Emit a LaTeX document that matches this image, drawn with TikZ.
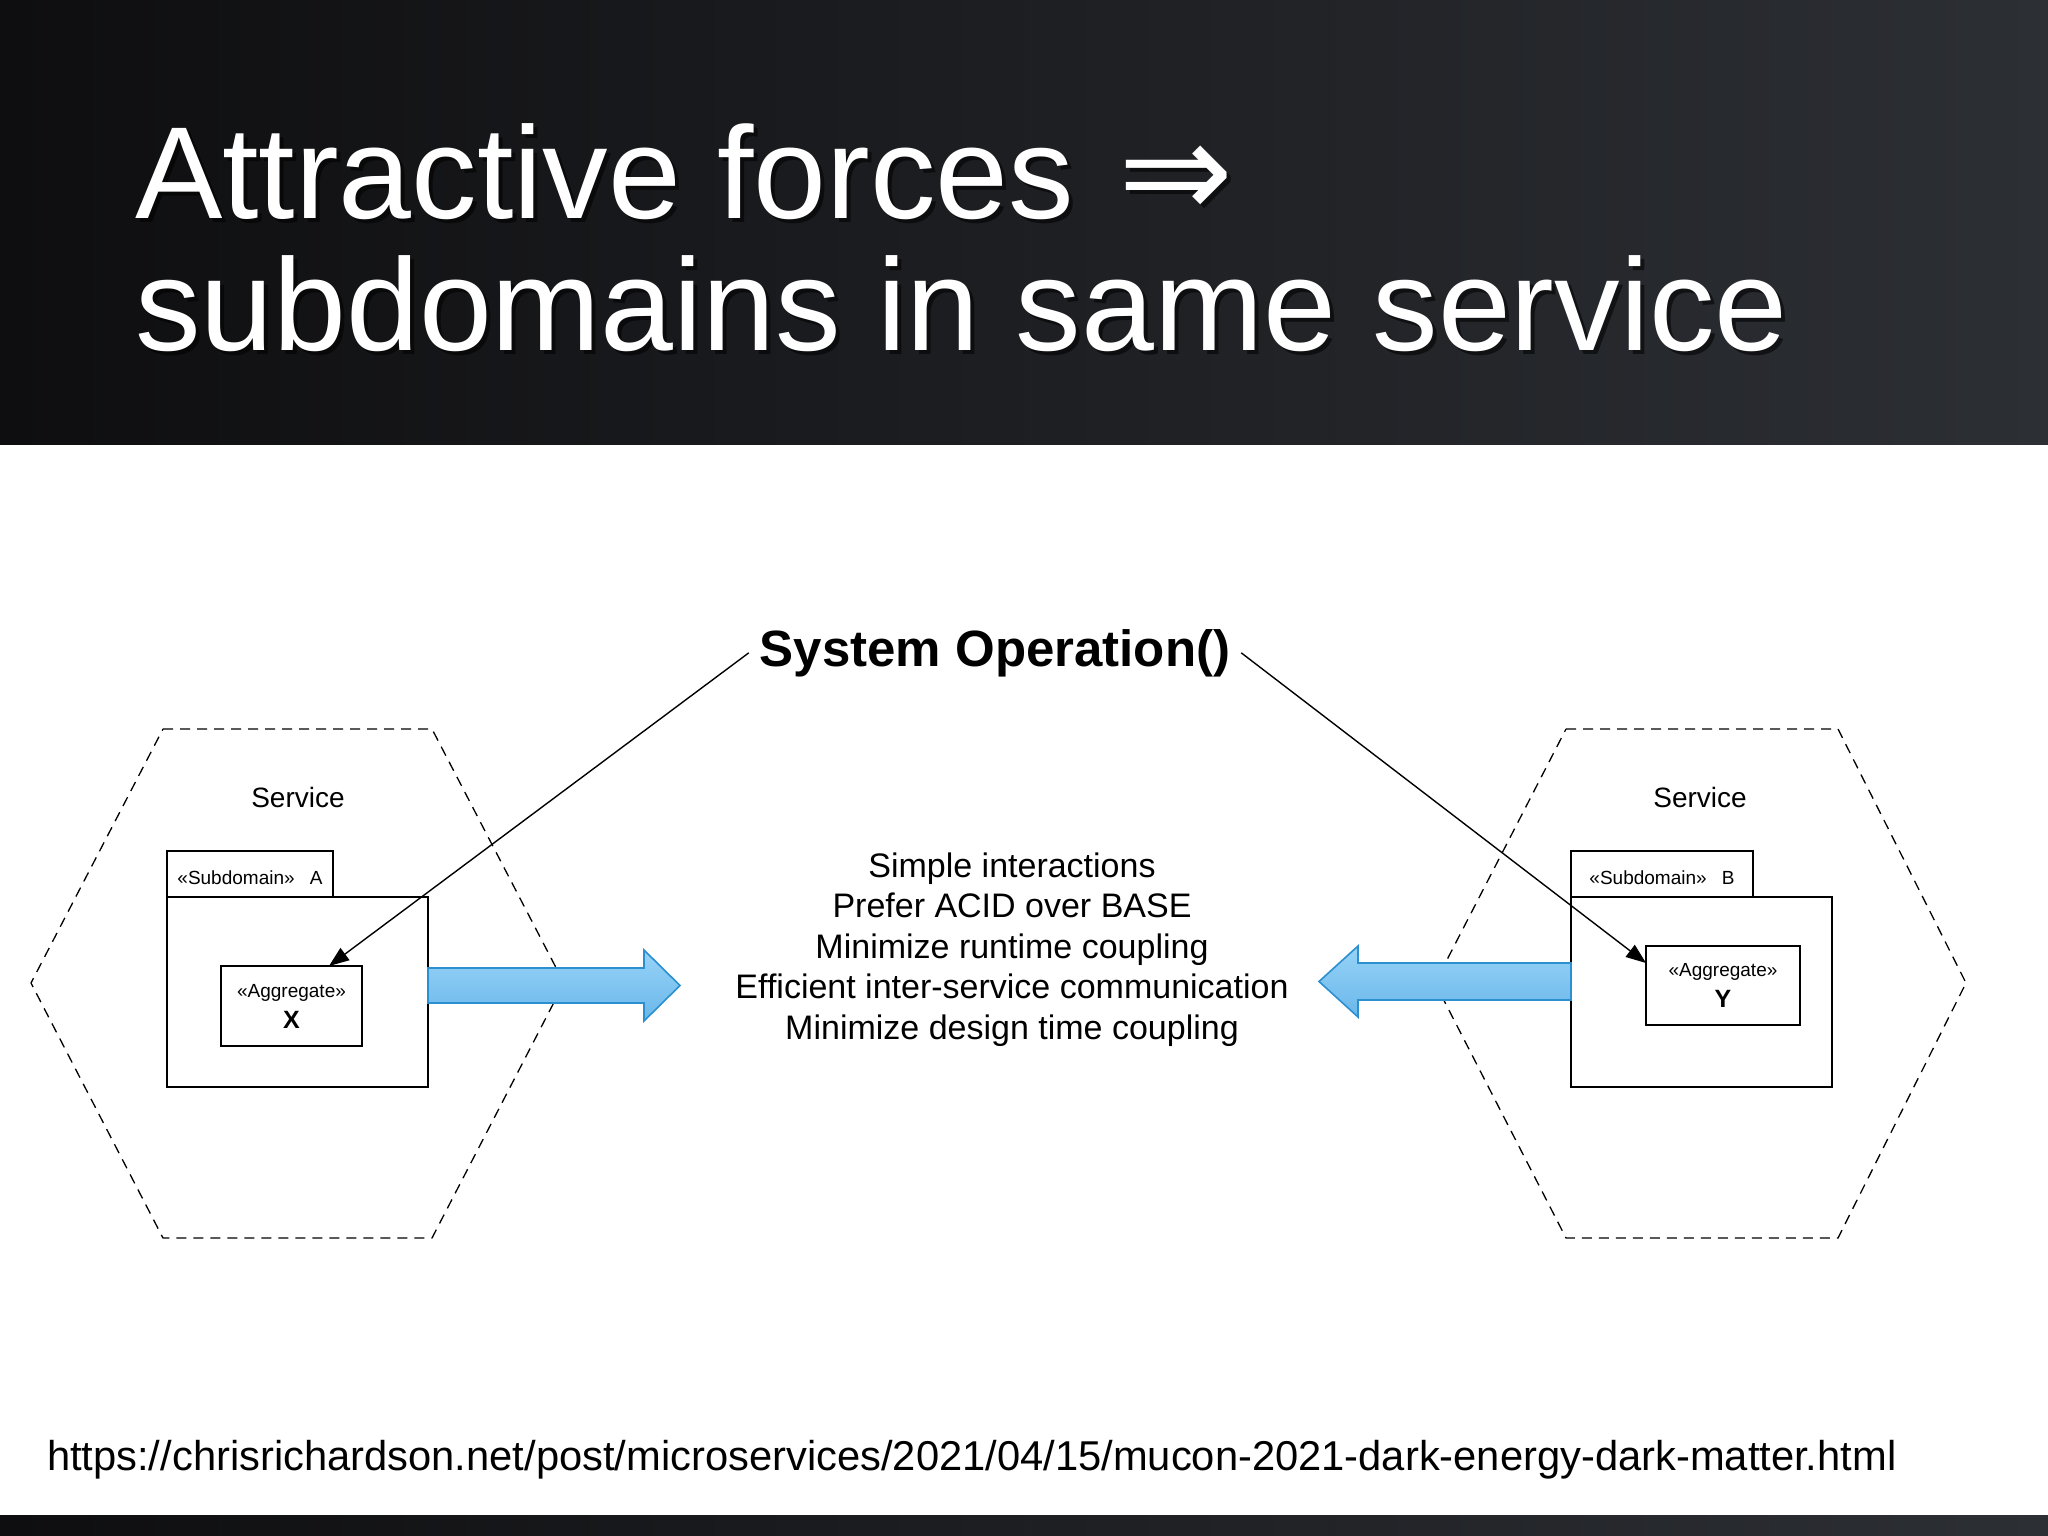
\documentclass[tikz,border=0pt]{standalone}
\usepackage{fontspec}
\setmainfont{Liberation Sans}
\newfontfamily\symfont{DejaVu Sans}
\usetikzlibrary{arrows.meta,calc}
\definecolor{bandleft}{HTML}{0E0E10}
\definecolor{bandright}{HTML}{2C2F34}
\definecolor{arrowtop}{HTML}{97D3F8}
\definecolor{arrowbottom}{HTML}{6AB7EA}
\definecolor{arrowborder}{HTML}{2C8FD0}
\begin{document}
\begin{tikzpicture}[x=1pt,y=-1pt,
  every node/.style={inner sep=0pt, outer sep=0pt},
  boxstyle/.style={draw=black, line width=2pt, fill=white, rectangle},
  hexstyle/.style={draw=black, line width=1.3pt, dash pattern=on 10pt off 7pt},
  callarrow/.style={draw=black, line width=1.4pt, -{Triangle[length=20pt,width=15pt]}},
  bluearrow/.style={draw=arrowborder, line width=1.6pt, top color=arrowtop, bottom color=arrowbottom},
  titlefont/.style={font=\fontsize{131}{150}\selectfont},
  smallfont/.style={font=\fontsize{19}{31}\selectfont},
]
\useasboundingbox (0,0) rectangle (2048,1536);
\fill[white] (0,0) rectangle (2048,1536);
% dark bands
\shade[left color=bandleft, right color=bandright] (0,0) rectangle (2048,444);
\shade[left color=bandleft, right color=bandright] (0,1515) rectangle (2048,1536);

% title
\node[titlefont, anchor=base west, text=black, opacity=0.55] (t1s) at (139,222) {Attractive forces \hspace{8pt}{\symfont\scalebox{1.05}{⇒}}};
\node[titlefont, anchor=base west, text=black, opacity=0.55] (t2s) at (139,354) {subdomains in same service};
\node[titlefont, anchor=base west, text=white] (t1) at (135,218) {Attractive forces \hspace{8pt}{\symfont\scalebox{1.05}{⇒}}};
\node[titlefont, anchor=base west, text=white] (t2) at (135,350) {subdomains in same service};

% hexagons
\draw[hexstyle] (163,729) -- (432,729) -- (564,983) -- (432,1238) -- (163,1238) -- (31,983) -- cycle;
\draw[hexstyle] (1566,729) -- (1838,729) -- (1966,983) -- (1838,1238) -- (1566,1238) -- (1435,983) -- cycle;

% service labels
\node[font=\fontsize{28}{32}\selectfont] (svcA) at (298,797) {Service};
\node[font=\fontsize{28}{32}\selectfont] (svcB) at (1700,797) {Service};

% subdomain A
\node[boxstyle, minimum width=261, minimum height=190] (subA) at (297.5,992) {};
\node[boxstyle, smallfont, minimum width=166, minimum height=46] (tabA) at (250,874) {\raisebox{-10pt}[0pt][0pt]{«Subdomain»\hspace{0.8em}A}};
\node[boxstyle, smallfont, align=center, minimum width=141, minimum height=80] (aggX) at (291.5,1006) {«Aggregate»\\{\fontsize{25}{31}\selectfont\bfseries X}};

% subdomain B
\node[boxstyle, minimum width=261, minimum height=190] (subB) at (1701.5,992) {};
\node[boxstyle, smallfont, minimum width=182, minimum height=46] (tabB) at (1662,874) {\raisebox{-10pt}[0pt][0pt]{«Subdomain»\hspace{0.8em}B}};
\node[boxstyle, smallfont, align=center, minimum width=154, minimum height=79] (aggY) at (1723,985.5) {«Aggregate»\\{\fontsize{25}{31}\selectfont\bfseries Y}};

% system operation
\node[font=\fontsize{51}{60}\selectfont\bfseries, anchor=base, inner sep=11pt] (sysop) at (995,666) {System Operation()};

% middle text
\node[font=\fontsize{34}{40.5}\selectfont, align=center] (forces) at (1012,949.5) {Simple interactions\\Prefer ACID over BASE\\Minimize runtime coupling\\Efficient inter-service communication\\Minimize design time coupling};

% blue arrows
\draw[bluearrow] (subA.east |- 0,968) -- (644,968) -- (644,950) -- (680,985.5) -- (644,1021) -- (644,1003) -- (subA.east |- 0,1003) -- cycle;
\draw[bluearrow] (subB.west |- 0,963) -- (1358,963) -- (1358,946) -- (1319,981.5) -- (1358,1017) -- (1358,1000) -- (subB.west |- 0,1000) -- cycle;

% call connectors
\coordinate (endX) at ([xshift=37.5pt]aggX.north);
\coordinate (endY) at ([yshift=-17pt]aggY.north west);
\draw[callarrow] (sysop.west) -- (endX);
\draw[callarrow] (sysop.east) -- (endY);

% url
\node[font=\fontsize{41.7}{50}\selectfont, anchor=base west] (url) at (47,1470) {https://chrisrichardson.net/post/microservices/2021/04/15/mucon-2021-dark-energy-dark-matter.html};
\end{tikzpicture}
\end{document}
